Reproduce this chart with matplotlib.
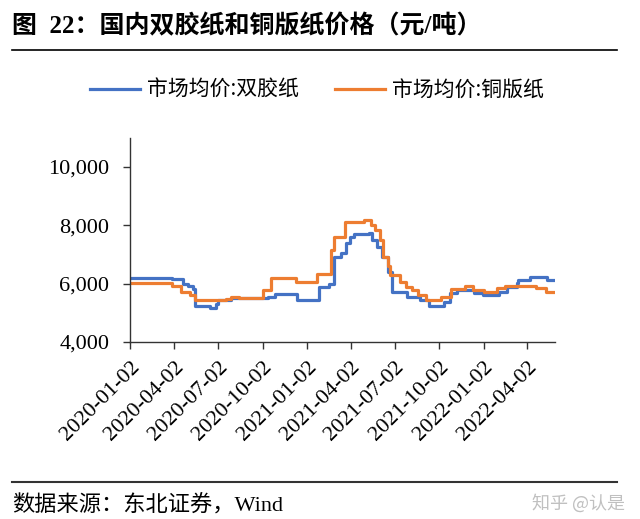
import matplotlib
matplotlib.use("Agg")
import matplotlib.pyplot as plt
import matplotlib.dates as mdates
from matplotlib.lines import Line2D
import pandas as pd

# ---- data (step change points) ----
blue_dates = ["2020-01-02", "2020-03-28", "2020-04-21", "2020-05-01", "2020-05-11", "2020-05-16",
              "2020-06-15", "2020-06-28", "2020-07-02", "2020-07-29", "2020-10-13", "2020-10-28",
              "2020-12-13", "2021-01-26", "2021-02-16", "2021-02-26", "2021-03-12", "2021-03-24",
              "2021-04-01", "2021-04-09", "2021-05-09", "2021-05-15", "2021-05-27", "2021-06-06",
              "2021-06-18", "2021-06-26", "2021-07-27", "2021-08-24", "2021-09-10", "2021-10-11",
              "2021-10-25", "2021-11-08", "2021-12-12", "2022-01-01", "2022-02-03", "2022-02-18",
              "2022-03-11", "2022-03-14", "2022-04-07", "2022-05-12", "2022-05-26"]
blue_values = [6200, 6150, 6000, 5930, 5800, 5250,
               5150, 5300, 5450, 5500, 5550, 5650,
               5450, 5900, 6000, 6930, 7040, 7380,
               7610, 7700, 7745, 7500, 7270, 6930,
               6410, 5725, 5555, 5440, 5250, 5380,
               5670, 5785, 5690, 5610, 5725, 5900,
               6030, 6120, 6215, 6120, 6120]

orange_dates = ["2020-01-02", "2020-03-29", "2020-04-17", "2020-05-04", "2020-05-15", "2020-07-19",
                "2020-07-29", "2020-08-15", "2020-10-02", "2020-10-20", "2020-12-10", "2021-01-23",
                "2021-02-20", "2021-02-27", "2021-03-21", "2021-04-30", "2021-05-13", "2021-05-22",
                "2021-06-01", "2021-06-08", "2021-06-19", "2021-06-22", "2021-07-13", "2021-07-26",
                "2021-08-06", "2021-08-19", "2021-09-05", "2021-10-06", "2021-10-26", "2021-11-25",
                "2021-12-10", "2022-01-03", "2022-01-30", "2022-02-15", "2022-04-19", "2022-05-10",
                "2022-05-26"]
orange_values = [6030, 5920, 5725, 5610, 5440, 5465,
                 5555, 5500, 5783, 6184, 6070, 6320,
                 7155, 7610, 8125, 8180, 8010, 7840,
                 7500, 6930, 6590, 6300, 6070, 5900,
                 5785, 5610, 5440, 5555, 5820, 5930,
                 5785, 5725, 5840, 5930, 5860, 5725,
                 5725]

series_names = ["市场均价:双胶纸", "市场均价:铜版纸"]
tick_dates = ["2020-01-02", "2020-04-02", "2020-07-02", "2020-10-02", "2021-01-02",
              "2021-04-02", "2021-07-02", "2021-10-02", "2022-01-02", "2022-04-02"]
y_ticks = [4000, 6000, 8000, 10000]

title = "图  22：国内双胶纸和铜版纸价格（元/吨）"
source = "数据来源：东北证券，Wind"
watermark = "知乎 @认是"

MIX = ["Liberation Serif", "Noto Sans CJK SC"]
CJK = ["Noto Sans CJK SC", "DejaVu Sans"]

fig = plt.figure(figsize=(6.4, 5.19), dpi=100)
W, H = 640, 519
ax = fig.add_axes([130 / W, 1 - 342 / H, (555 - 130) / W, (342 - 138) / H])

bd = pd.to_datetime(blue_dates)
od = pd.to_datetime(orange_dates)
l1, = ax.plot(bd, blue_values, drawstyle="steps-post", color="#4472C4", lw=2.3)
l2, = ax.plot(od, orange_values, drawstyle="steps-post", color="#ED7D31", lw=2.3)

ax.set_ylim(4000, 4000 + (342 - 138) / 29.17 * 1000)
ax.set_xlim(pd.Timestamp("2020-01-02"), pd.Timestamp("2022-05-29"))
ax.set_yticks(y_ticks)
ax.set_yticklabels([f"{v:,}" for v in y_ticks], fontfamily="Liberation Serif", fontsize=16)
ax.set_xticks(pd.to_datetime(tick_dates))
ax.set_xticklabels(tick_dates, rotation=45, ha="right", rotation_mode="anchor",
                   fontfamily="Liberation Serif", fontsize=16)
for s in ["top", "right"]:
    ax.spines[s].set_visible(False)
for s in ["left", "bottom"]:
    ax.spines[s].set_color("#333333")
    ax.spines[s].set_linewidth(1.0)
ax.tick_params(axis="both", direction="out", length=5, width=1.0, color="#333333", pad=4)
ax.tick_params(axis="y", pad=10)
ax.tick_params(axis="x", pad=6)

fig.legend([l1, l2], series_names, loc="center", bbox_to_anchor=(317 / W, 1 - 90 / H),
           ncol=2, frameon=False, prop={"family": CJK, "size": 15},
           handlelength=2.4, handletextpad=0.35, columnspacing=1.7)

fig.text(12 / W, 1 - 26 / H, title, fontsize=18, fontweight="bold", family=MIX,
         ha="left", va="center")
fig.add_artist(Line2D([12 / W, 617 / W], [1 - 50 / H, 1 - 50 / H], color="black", lw=1.2))
fig.add_artist(Line2D([12 / W, 617 / W], [1 - 482 / H, 1 - 482 / H], color="#333333", lw=1.5))
fig.text(12 / W, 1 - 506 / H, source, fontsize=16, family=MIX, ha="left", va="center")
fig.text(625 / W, 1 - 503 / H, watermark, fontsize=13, family=CJK, color="#c0c0c0",
         ha="right", va="center")

fig.savefig("out.png", dpi=100)
